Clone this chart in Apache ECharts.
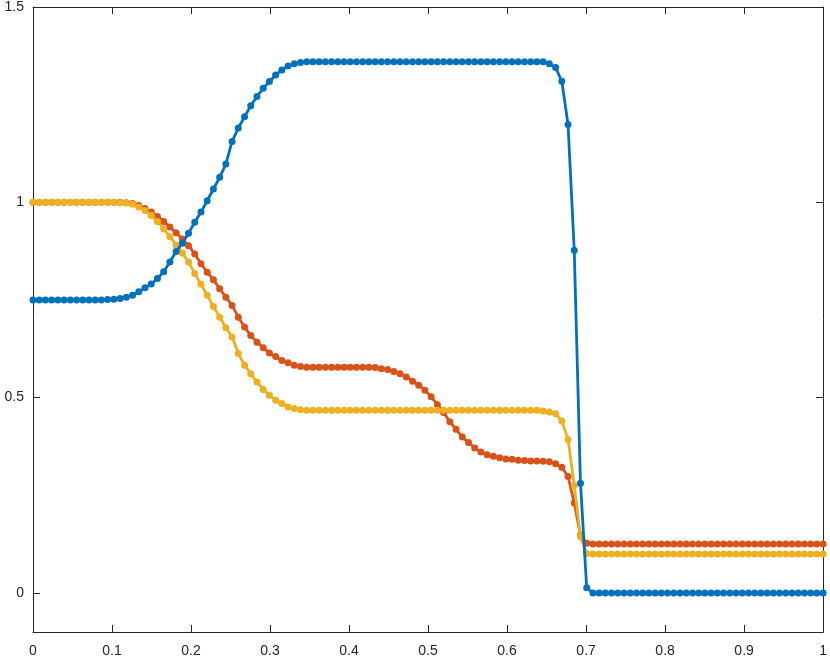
<!DOCTYPE html>
<html>
<head>
<meta charset="utf-8">
<script src="https://cdn.jsdelivr.net/npm/echarts@6/dist/echarts.min.js"></script>
<style>
  html, body { margin: 0; padding: 0; background: #fff; }
  #chart { width: 830px; height: 660px; }
</style>
</head>
<body>
<div id="chart"></div>
<script>
// 128 samples on [0, 1]
var N = 128;
var xTicks = [0, 0.1, 0.2, 0.3, 0.4, 0.5, 0.6, 0.7, 0.8, 0.9, 1];
var yTicks = [0, 0.5, 1, 1.5];

var blueY = [
  0.75, 0.75, 0.75, 0.75, 0.75, 0.75, 0.75, 0.75, 0.75, 0.75,
  0.75, 0.75, 0.751, 0.752, 0.754, 0.757, 0.762, 0.771, 0.781, 0.791,
  0.805, 0.822, 0.847, 0.874, 0.895, 0.921, 0.949, 0.975, 1.004, 1.034,
  1.064, 1.098, 1.156, 1.190, 1.219, 1.247, 1.271, 1.292, 1.309, 1.326,
  1.339, 1.349, 1.355, 1.358, 1.36, 1.36, 1.36, 1.36, 1.36, 1.36,
  1.36, 1.36, 1.36, 1.36, 1.36, 1.36, 1.36, 1.36, 1.36, 1.36,
  1.36, 1.36, 1.36, 1.36, 1.36, 1.36, 1.36, 1.36, 1.36, 1.36,
  1.36, 1.36, 1.36, 1.36, 1.36, 1.36, 1.36, 1.36, 1.36, 1.36,
  1.36, 1.36, 1.36, 1.355, 1.345, 1.310, 1.199, 0.877, 0.281, 0.013,
  0, 0, 0, 0, 0, 0, 0, 0, 0, 0,
  0, 0, 0, 0, 0, 0, 0, 0, 0, 0,
  0, 0, 0, 0, 0, 0, 0, 0, 0, 0,
  0, 0, 0, 0, 0, 0, 0, 0
];

var redY = [
  1, 1, 1, 1, 1, 1, 1, 1, 1, 1,
  1, 1, 1, 1, 1, 0.999, 0.997, 0.992, 0.984, 0.975,
  0.964, 0.951, 0.937, 0.922, 0.906, 0.889, 0.868, 0.843, 0.821, 0.802,
  0.779, 0.757, 0.736, 0.706, 0.681, 0.659, 0.642, 0.628, 0.614, 0.605,
  0.595, 0.589, 0.583, 0.580, 0.578, 0.578, 0.578, 0.578, 0.578, 0.578,
  0.578, 0.578, 0.578, 0.578, 0.578, 0.577, 0.574, 0.572, 0.567, 0.561,
  0.553, 0.542, 0.532, 0.519, 0.502, 0.482, 0.462, 0.438, 0.419, 0.399,
  0.385, 0.371, 0.361, 0.354, 0.350, 0.346, 0.343, 0.342, 0.340, 0.339,
  0.338, 0.338, 0.337, 0.336, 0.331, 0.322, 0.298, 0.230, 0.148, 0.127,
  0.125, 0.125, 0.125, 0.125, 0.125, 0.125, 0.125, 0.125, 0.125, 0.125,
  0.125, 0.125, 0.125, 0.125, 0.125, 0.125, 0.125, 0.125, 0.125, 0.125,
  0.125, 0.125, 0.125, 0.125, 0.125, 0.125, 0.125, 0.125, 0.125, 0.125,
  0.125, 0.125, 0.125, 0.125, 0.125, 0.125, 0.125, 0.125
];

var yellowY = [
  1, 1, 1, 1, 1, 1, 1, 1, 1, 1,
  1, 1, 1, 1, 0.999, 0.998, 0.995, 0.988, 0.979, 0.966,
  0.951, 0.932, 0.912, 0.891, 0.870, 0.847, 0.818, 0.790, 0.762, 0.733,
  0.706, 0.679, 0.655, 0.613, 0.583, 0.561, 0.540, 0.521, 0.506, 0.493,
  0.485, 0.476, 0.472, 0.469, 0.468, 0.468, 0.468, 0.468, 0.468, 0.468,
  0.468, 0.468, 0.468, 0.468, 0.468, 0.468, 0.468, 0.468, 0.468, 0.468,
  0.468, 0.468, 0.468, 0.468, 0.468, 0.468, 0.468, 0.468, 0.468, 0.468,
  0.468, 0.468, 0.468, 0.468, 0.468, 0.468, 0.468, 0.468, 0.468, 0.468,
  0.468, 0.468, 0.466, 0.463, 0.459, 0.440, 0.393, 0.275, 0.144, 0.101,
  0.1, 0.1, 0.1, 0.1, 0.1, 0.1, 0.1, 0.1, 0.1, 0.1,
  0.1, 0.1, 0.1, 0.1, 0.1, 0.1, 0.1, 0.1, 0.1, 0.1,
  0.1, 0.1, 0.1, 0.1, 0.1, 0.1, 0.1, 0.1, 0.1, 0.1,
  0.1, 0.1, 0.1, 0.1, 0.1, 0.1, 0.1, 0.1
];

function pairs(ys) {
  return ys.map(function (y, i) { return [i / (N - 1), y]; });
}

var axisColor = '#262626';
var labelFont = { color: axisColor, fontSize: 14, fontFamily: 'Liberation Sans, Arial, sans-serif' };

function lineSeries(name, ys, color, z) {
  return {
    name: name,
    type: 'line',
    data: pairs(ys),
    z: z,
    symbol: 'circle',
    symbolSize: 7,
    showAllSymbol: true,
    lineStyle: { color: color, width: 2.8 },
    itemStyle: { color: color },
    emphasis: { disabled: true }
  };
}

var chart = echarts.init(document.getElementById('chart'), null, { renderer: 'canvas' });
var option = {
  animation: false,
  backgroundColor: '#fff',
  grid: { left: 33, right: 3, top: 6, bottom: 28, containLabel: false },
  xAxis: [
    {
      type: 'value', min: 0, max: 1, position: 'bottom',
      axisLine: { show: true, onZero: false, lineStyle: { color: axisColor, width: 1 } },
      axisTick: { show: true, inside: true, length: 7, customValues: xTicks, lineStyle: { color: axisColor } },
      axisLabel: Object.assign({ customValues: xTicks, margin: 12 }, labelFont),
      splitLine: { show: false }
    },
    {
      type: 'value', min: 0, max: 1, position: 'top',
      axisLine: { show: true, onZero: false, lineStyle: { color: axisColor, width: 1 } },
      axisTick: { show: true, inside: true, length: 7, customValues: xTicks, lineStyle: { color: axisColor } },
      axisLabel: { show: false },
      splitLine: { show: false }
    }
  ],
  yAxis: [
    {
      type: 'value', min: -0.1, max: 1.5, position: 'left',
      axisLine: { show: true, onZero: false, lineStyle: { color: axisColor, width: 1 } },
      axisTick: { show: true, inside: true, length: 7, customValues: yTicks, lineStyle: { color: axisColor } },
      axisLabel: Object.assign({ customValues: yTicks, margin: 9 }, labelFont),
      splitLine: { show: false }
    },
    {
      type: 'value', min: -0.1, max: 1.5, position: 'right',
      axisLine: { show: true, onZero: false, lineStyle: { color: axisColor, width: 1 } },
      axisTick: { show: true, inside: true, length: 7, customValues: yTicks, lineStyle: { color: axisColor } },
      axisLabel: { show: false },
      splitLine: { show: false }
    }
  ],
  series: [
    lineSeries('rho2', redY, '#D95319', 2),
    lineSeries('rho3', yellowY, '#EDB120', 3),
    lineSeries('rho1', blueY, '#0072BD', 4)
  ]
};
chart.setOption(option);
</script>
</body>
</html>
